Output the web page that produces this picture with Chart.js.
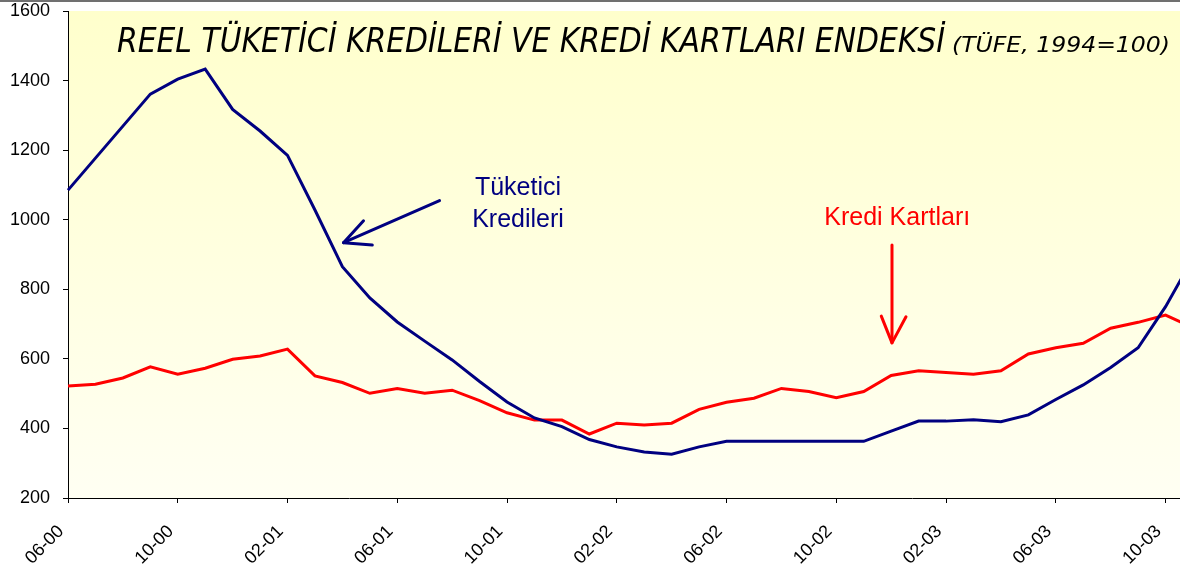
<!DOCTYPE html>
<html>
<head>
<meta charset="utf-8">
<script src="https://cdn.jsdelivr.net/npm/chart.js@4"></script>
<style>
  html, body { margin: 0; padding: 0; background: #fff; overflow: hidden; }
  #wrap { position: absolute; left: 0; top: 0; width: 1193px; height: 571px; }
</style>
</head>
<body>
<div id="wrap"><canvas id="myChart-line"></canvas></div>
<script>
// monthly, 06-00 .. 11-03 (last month is cut by the picture edge)
const months = [
    '06-00','07-00','08-00','09-00','10-00','11-00','12-00',
    '01-01','02-01','03-01','04-01','05-01','06-01','07-01','08-01','09-01','10-01','11-01','12-01',
    '01-02','02-02','03-02','04-02','05-02','06-02','07-02','08-02','09-02','10-02','11-02','12-02',
    '01-03','02-03','03-03','04-03','05-03','06-03','07-03','08-03','09-03','10-03','11-03'
];
const tuketici = [
    1085,1177,1269,1361,1404,1433,1317,1255,1185,1028,
    865,775,706,651,597,535,476,430,405,368,
    347,332,326,347,363,363,363,363,363,363,
    392,421,421,425,419,439,483,525,575,632,
    750,890
];
const kartlar = [
    522,527,545,577,556,573,599,608,628,551,
    532,501,515,501,510,480,445,424,424,384,
    415,410,415,455,475,487,515,506,488,506,
    552,566,561,556,566,614,632,645,688,705,
    726,690
];
const yTicks = [200, 400, 600, 800, 1000, 1200, 1400, 1600];

const NAVY = '#000080';
const RED = '#FF0000';

function line(ctx, xs, ys, pts) {
    ctx.beginPath();
    pts.forEach((p, i) => {
        const px = xs.getPixelForValue(p[0]);
        const py = ys.getPixelForValue(p[1]);
        if (i === 0) ctx.moveTo(px, py); else ctx.lineTo(px, py);
    });
    ctx.stroke();
}

const decor = {
    id: 'decor',
    beforeDraw(chart) {
        const ctx = chart.ctx;
        const a = chart.chartArea;
        ctx.save();
        const g = ctx.createLinearGradient(0, a.top, 0, a.bottom);
        g.addColorStop(0, '#FFFFCC');
        g.addColorStop(1, '#FFFFF3');
        ctx.fillStyle = g;
        ctx.fillRect(a.left, a.top, a.right - a.left, a.bottom - a.top);
        ctx.fillStyle = '#707070';
        ctx.fillRect(0, 0, chart.width, 2);
        ctx.restore();
    },
    afterDatasetsDraw(chart) {
        const ctx = chart.ctx;
        const xs = chart.scales.x, ys = chart.scales.y;
        ctx.save();

        // title
        ctx.fillStyle = '#000';
        ctx.textBaseline = 'alphabetic';
        ctx.textAlign = 'left';
        const t1 = 'REEL TÜKETİCİ KREDİLERİ VE KREDİ KARTLARI ENDEKSİ';
        ctx.font = 'italic 33px "DejaVu Sans Condensed"';
        let w = ctx.measureText(t1).width;
        ctx.save();
        ctx.translate(117, 52);
        ctx.scale(828 / w, 1);
        ctx.fillText(t1, 0, 0);
        ctx.restore();
        const t2 = '(TÜFE, 1994=100)';
        ctx.font = 'italic 22px "DejaVu Sans Condensed"';
        w = ctx.measureText(t2).width;
        ctx.save();
        ctx.translate(952, 52);
        ctx.scale(218 / w, 1);
        ctx.fillText(t2, 0, 0);
        ctx.restore();

        // labels
        ctx.font = '25px "Liberation Sans", Arial, sans-serif';
        ctx.textAlign = 'center';
        ctx.fillStyle = NAVY;
        ctx.fillText('Tüketici', xs.getPixelForValue(16.4), ys.getPixelForValue(1071));
        ctx.fillText('Kredileri', xs.getPixelForValue(16.4), ys.getPixelForValue(979));
        ctx.fillStyle = RED;
        ctx.fillText('Kredi Kartları', xs.getPixelForValue(30.22), ys.getPixelForValue(985));

        // arrows
        ctx.lineWidth = 3;
        ctx.lineCap = 'round';
        ctx.lineJoin = 'round';
        ctx.strokeStyle = NAVY;
        line(ctx, xs, ys, [[13.54, 1055], [10.04, 934]]);
        line(ctx, xs, ys, [[10.77, 997], [10.04, 934], [11.09, 927]]);
        ctx.strokeStyle = RED;
        line(ctx, xs, ys, [[30.03, 927], [30.03, 646]]);
        line(ctx, xs, ys, [[29.64, 723], [30.03, 646], [30.54, 721]]);
        ctx.restore();
    }
};

const data = {
    labels: months,
    datasets: [{
        label: 'Tüketici Kredileri',
        data: tuketici,
        borderColor: NAVY,
        borderWidth: 3,
        pointRadius: 0,
        tension: 0
    }, {
        label: 'Kredi Kartları',
        data: kartlar,
        borderColor: RED,
        borderWidth: 3,
        pointRadius: 0,
        tension: 0
    }]
};

const config = {
    type: 'line',
    data: data,
    plugins: [decor],
    options: {
        responsive: true,
        maintainAspectRatio: false,
        animation: false,
        layout: { padding: { top: 11, right: 0, left: 0, bottom: 0 } },
        plugins: {
            legend: { display: false },
            tooltip: { enabled: false },
            title: { display: false }
        },
        scales: {
            x: {
                offset: false,
                afterFit(scale) {
                    scale.height = 73;
                    scale.paddingLeft = 0;
                    scale.paddingRight = 0;
                },
                border: { display: true, color: '#000', width: 1 },
                grid: { drawOnChartArea: false, drawTicks: true, tickLength: 5, color: '#000' },
                ticks: {
                    autoSkip: false,
                    maxRotation: 45,
                    minRotation: 45,
                    padding: 18,
                    labelOffset: -7,
                    color: '#000',
                    font: { family: '"Liberation Sans", Arial, sans-serif', size: 18 },
                    callback(value, index) {
                        return index % 4 === 0 ? months[index] : null;
                    }
                }
            },
            y: {
                min: yTicks[0],
                max: yTicks[yTicks.length - 1],
                afterFit(scale) {
                    scale.width = 68;
                    scale.paddingTop = 0;
                    scale.paddingBottom = 0;
                },
                afterBuildTicks(scale) { scale.ticks = yTicks.map(v => ({ value: v })); },
                border: { display: true, color: '#000', width: 1 },
                grid: { drawOnChartArea: false, drawTicks: true, tickLength: 5, color: '#000' },
                ticks: {
                    padding: 13,
                    color: '#000',
                    font: { family: '"Liberation Sans", Arial, sans-serif', size: 18 },
                    callback(value) { return String(value); }
                }
            }
        }
    }
};

const myChart = new Chart(document.getElementById('myChart-line'), config);
</script>
</body>
</html>
